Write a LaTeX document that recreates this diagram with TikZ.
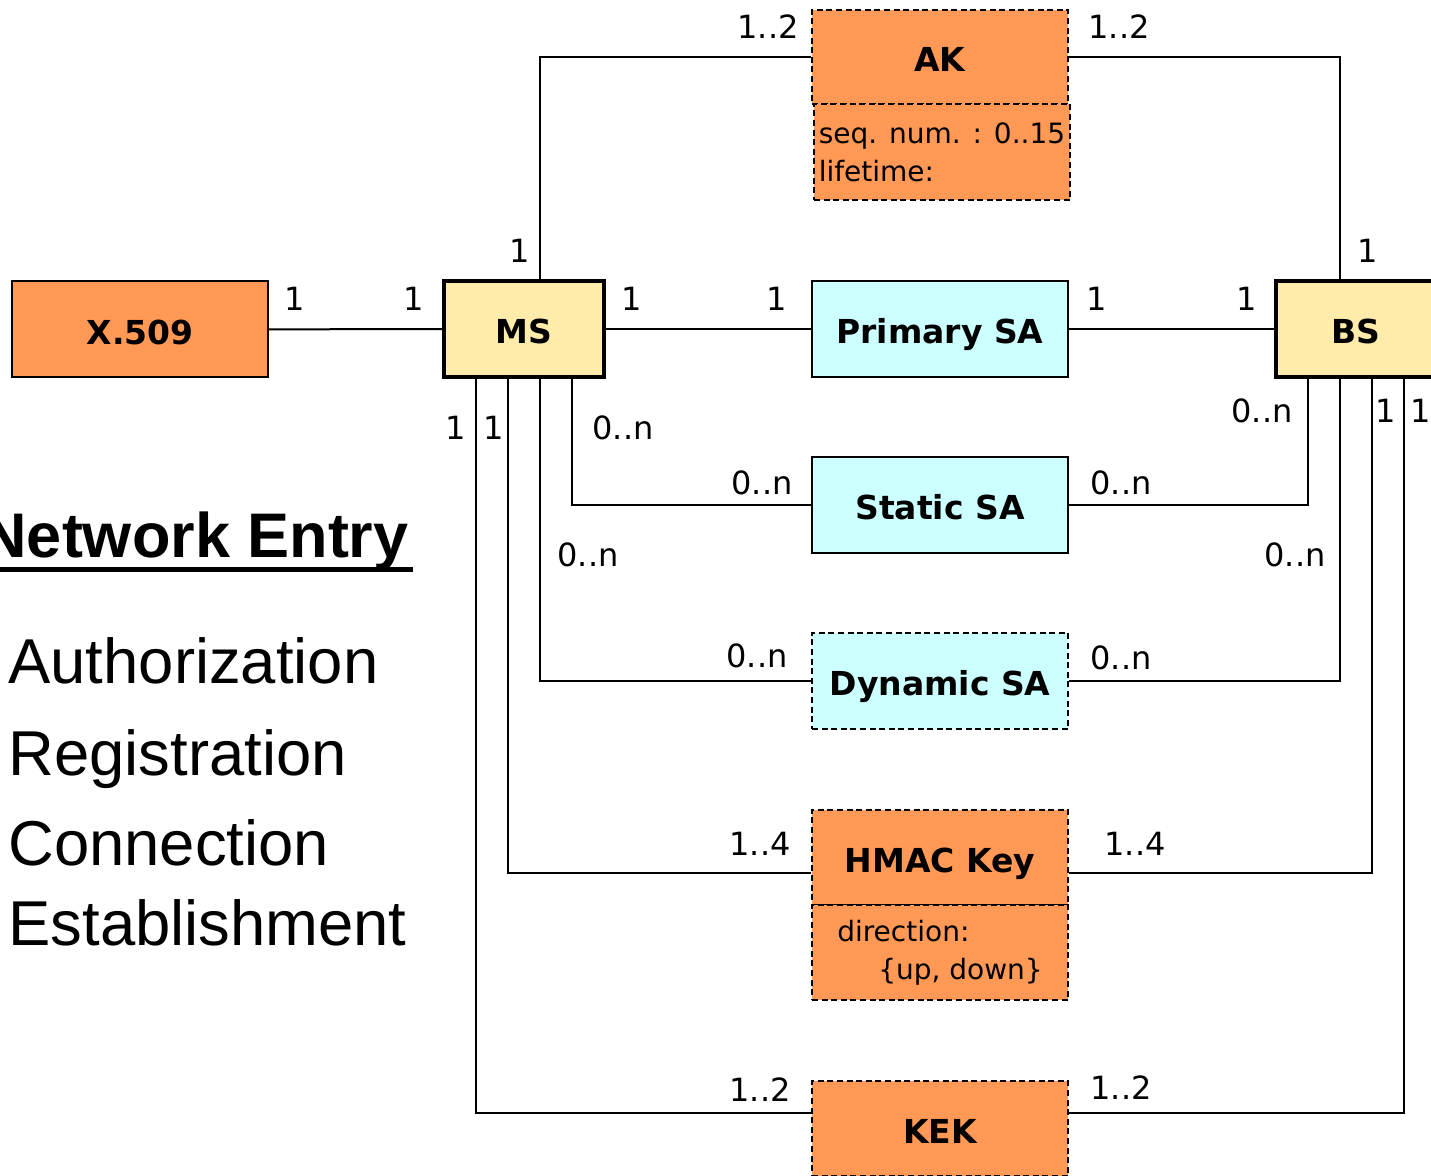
\documentclass[tikz,border=0pt]{standalone}
\usepackage{fontspec}
\setmainfont{DejaVu Sans}
\newfontfamily\arialfont{Liberation Sans}
\usetikzlibrary{calc}
\definecolor{keyorange}{RGB}{255,153,85}
\definecolor{entyellow}{RGB}{255,236,170}
\definecolor{sacyan}{RGB}{204,255,255}
\begin{document}
\begin{tikzpicture}[x=0.5pt,y=-0.5pt,
        box/.style={draw,line width=1pt,minimum width=128pt,minimum height=48pt,inner sep=0pt,text height=15pt,text depth=-1pt,font=\fontsize{16.5}{20}\selectfont\bfseries},
        ent/.style={box,line width=2.2pt,fill=entyellow,minimum width=80pt},
        dbox/.style={box,dash pattern=on 3pt off 1.8pt},
        attr/.style={draw,line width=1pt,dash pattern=on 3pt off 1.8pt,fill=keyorange,minimum width=128pt,minimum height=48pt,inner sep=0pt,align=left,font=\fontsize{14}{19}\selectfont},
        lbl/.style={inner sep=0pt,font=\fontsize{16}{16}\selectfont},
        side/.style={anchor=base west,inner sep=0pt,font=\arialfont\fontsize{31.7}{36}\selectfont},
        link/.style={line width=1pt}]
        \useasboundingbox (0,0) rectangle (1431,1176);
        % boxes
        \node[box,fill=keyorange] (x509) at (140,329.5) {X.509};
        \node[ent] (ms) at (524,329) {MS};
        \node[box,fill=sacyan] (psa) at (940,329) {Primary SA};
        \node[ent] (bs) at (1356,329) {BS};
        \node[dbox,fill=keyorange,minimum height=47pt] (ak) at (940,57) {AK};
        \node[attr] (akattr) at (942,152) {seq. num. : 0..15\\lifetime:};
        \node[box,fill=sacyan] (ssa) at (940,505) {Static SA};
        \node[dbox,fill=sacyan] (dsa) at (940,681) {Dynamic SA};
        \node[dbox,fill=keyorange,minimum height=47.5pt] (hmac) at (940,857.5) {HMAC Key};
        \node[attr,minimum height=47.5pt] (hmacattr) at (940,952.5) {direction:\\\hspace*{20.5pt}\{up, down\}};
        \node[dbox,fill=keyorange,minimum height=47.5pt] (kek) at (940,1128.5) {KEK};
        % connectors
        \draw[link] (x509) -- (ms);
        \draw[link] (ms) -- (psa);
        \draw[link] (psa) -- (bs);
        \draw[link] ($(ms.north)+(16,0)$) |- (ak);
        \draw[link] ($(bs.north)+(-16,0)$) |- (ak);
        \draw[link] ($(ms.south)+(48,0)$) |- (ssa);
        \draw[link] ($(bs.south)+(-48,0)$) |- (ssa);
        \draw[link] ($(ms.south)+(16,0)$) |- (dsa);
        \draw[link] ($(bs.south)+(-16,0)$) |- (dsa);
        \draw[link] ($(ms.south)+(-16,0)$) |- ($(hmac.west)+(0,15)$);
        \draw[link] ($(bs.south)+(16,0)$) |- ($(hmac.east)+(0,15)$);
        \draw[link] ($(ms.south)+(-48,0)$) |- ($(kek.west)+(0,-16)$);
        \draw[link] ($(bs.south)+(48,0)$) |- ($(kek.east)+(0,-16)$);
        % multiplicities
        \node[lbl] (m1) at (295,299) {1};
        \node[lbl] (m2) at (414,299) {1};
        \node[lbl] (m3) at (632,299) {1};
        \node[lbl] (m4) at (777,299) {1};
        \node[lbl] (m5) at (1097,299) {1};
        \node[lbl] (m6) at (1247,299) {1};
        \node[lbl] (m7) at (520,251) {1};
        \node[lbl] (m8) at (768,27) {1..2};
        \node[lbl] (m9) at (1368,251) {1};
        \node[lbl] (m10) at (1119,27) {1..2};
        \node[lbl] (m11) at (456,428) {1};
        \node[lbl] (m12) at (494,428) {1};
        \node[lbl] (m13) at (623,428) {0..n};
        \node[lbl] (m14) at (762,483) {0..n};
        \node[lbl] (m15) at (1121,483) {0..n};
        \node[lbl] (m16) at (1262,411) {0..n};
        \node[lbl] (m17) at (588,555) {0..n};
        \node[lbl] (m18) at (1295,555) {0..n};
        \node[lbl] (m19) at (757,656) {0..n};
        \node[lbl] (m20) at (1121,658) {0..n};
        \node[lbl] (m21) at (1386,411) {1};
        \node[lbl] (m22) at (1421,411) {1};
        \node[lbl] (m23) at (760,844) {1..4};
        \node[lbl] (m24) at (1135,844) {1..4};
        \node[lbl] (m25) at (760,1090) {1..2};
        \node[lbl] (m26) at (1121,1088) {1..2};
        % left side text
        \node[anchor=base east,inner sep=0pt,font=\arialfont\bfseries\fontsize{31.5}{36}\selectfont] (netentry) at (409,558) {Network Entry};
        \draw[line width=2.5pt] ($(netentry.base west)+(0,12)$) -- ($(netentry.base east)+(4,12)$);
        \node[side] (auth) at (8,683) {Authorization};
        \node[side] (reg) at (8,775) {Registration};
        \node[side] (conn) at (8,865) {Connection};
        \node[side] (estab) at (8,945) {Establishment};
\end{tikzpicture}
\end{document}
